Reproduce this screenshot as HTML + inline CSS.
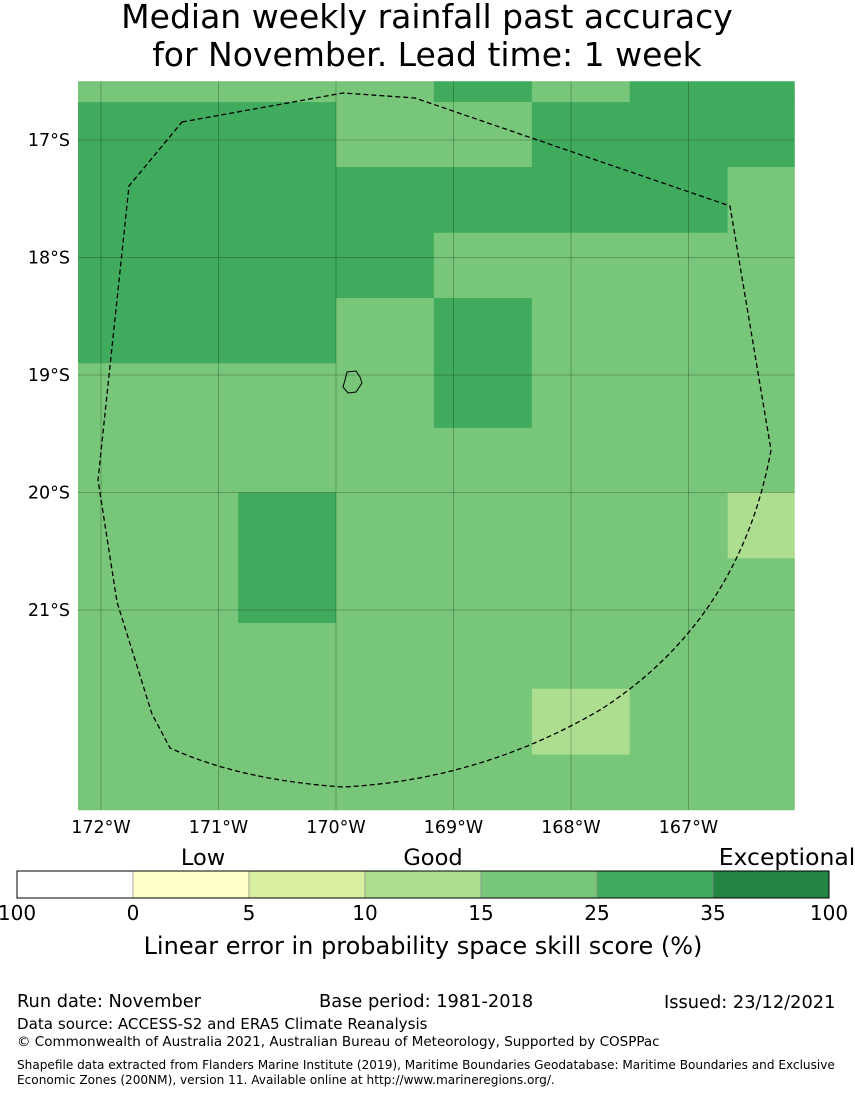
<!DOCTYPE html>
<html><head><meta charset="utf-8"><style>
body{margin:0;background:#fff;width:855px;height:1095px;overflow:hidden;font-family:"Liberation Sans","DejaVu Sans",sans-serif;}
svg text{font-family:"DejaVu Sans","Liberation Sans",sans-serif;}
</style></head><body>
<svg id="chart" width="855" height="1095">
<text x="427" y="28" font-size="33" text-anchor="middle">Median weekly rainfall past accuracy</text>
<text x="427" y="66" font-size="33" text-anchor="middle">for November. Lead time: 1 week</text>
<g id="cells"></g>
<g id="gridlines"></g>
<path id="eez" d="M182,122 L343,93 L415,98 L730,206 L771,450 Q740,620 600,710 Q480,780 343,787 Q240,780 170,748 L152,714 L117,602 L98,480 L129,186 Z" fill="none" stroke="#000" stroke-width="1.3" stroke-dasharray="5,3"/>
<path d="M347,372 L356,371 L360,377 L362,383 L356,392 L348,393 L343,387 L345,380 Z" fill="none" stroke="#000" stroke-width="1"/>
<g id="axes"></g>
<g id="cbar"></g>
<text x="203" y="865" font-size="22.5" text-anchor="middle">Low</text>
<text x="433" y="865" font-size="22.5" text-anchor="middle">Good</text>
<text x="787" y="865" font-size="23.5" text-anchor="middle">Exceptional</text>
<text x="423" y="954" font-size="24" text-anchor="middle">Linear error in probability space skill score (%)</text>
<text x="17" y="1007" font-size="17.8">Run date: November</text>
<text x="319" y="1007" font-size="17.8">Base period: 1981-2018</text>
<text x="664" y="1008" font-size="17.8">Issued: 23/12/2021</text>
<text x="17" y="1029" font-size="15.1">Data source: ACCESS-S2 and ERA5 Climate Reanalysis</text>
<text x="17" y="1046" font-size="13.5">© Commonwealth of Australia 2021, Australian Bureau of Meteorology, Supported by COSPPac</text>
<text x="17" y="1069" font-size="12.1">Shapefile data extracted from Flanders Marine Institute (2019), Maritime Boundaries Geodatabase: Maritime Boundaries and Exclusive</text>
<text x="17" y="1084" font-size="12.1">Economic Zones (200NM), version 11. Available online at http://www.marineregions.org/.</text>
</svg>
<script>
const lonEdges=[172.196,171.667,170.833,170.0,169.167,168.333,167.5,166.667,166.1];
const latEdges=[16.5,16.677,17.23,17.79,18.345,18.9,19.45,20.0,20.56,21.11,21.67,22.23,22.7];
const cellValues=[
[3,3,3,3,4,3,4,4],
[4,4,4,3,3,4,4,4],
[4,4,4,4,4,4,4,3],
[4,4,4,4,3,3,3,3],
[4,4,4,3,4,3,3,3],
[3,3,3,3,4,3,3,3],
[3,3,3,3,3,3,3,3],
[3,3,4,3,3,3,3,2],
[3,3,4,3,3,3,3,3],
[3,3,3,3,3,3,3,3],
[3,3,3,3,3,2,3,3],
[3,3,3,3,3,3,3,3]];
const binColors=['#ffffcc','#d9f0a3','#addd8e','#78c679','#41ab5d','#238443'];
const lonTicks=[172,171,170,169,168,167];
const latTicks=[17,18,19,20,21];
const cbarLabels=['100','0','5','10','15','25','35','100'];
const cbarColors=['#ffffff','#ffffcc','#d9f0a3','#addd8e','#78c679','#41ab5d','#238443'];
const NS='http://www.w3.org/2000/svg';
const X=l=>101+(172-l)*117.5, Y=l=>140+(l-17)*117.5;
function mk(t,a,p){const e=document.createElementNS(NS,t);for(const k in a)e.setAttribute(k,a[k]);p.appendChild(e);return e;}
const cells=document.getElementById('cells');
cellValues.forEach((row,r)=>row.forEach((v,c)=>{
 const x0=X(lonEdges[c]),x1=X(lonEdges[c+1]),y0=Y(latEdges[r]),y1=Y(latEdges[r+1]);
 const e=mk('rect',{x:x0,y:y0,width:x1-x0+0.5,height:y1-y0+0.5,fill:binColors[v]},cells);
 
 
}));
const gl=document.getElementById('gridlines'),ax=document.getElementById('axes');
const L=X(lonEdges[0]),R=X(lonEdges[8]),T=Y(latEdges[0]),B=Y(latEdges[12]);
lonTicks.forEach(t=>{
 const e=mk('line',{x1:X(t),x2:X(t),y1:T,y2:B,stroke:'#000','stroke-opacity':0.3,'stroke-width':0.8},gl);
 
 const s=mk('text',{x:X(t),y:B+23,'font-size':17.5,'text-anchor':'middle'},ax);s.textContent=t+'°W';
 
});
latTicks.forEach(t=>{
 const e=mk('line',{x1:L,x2:R,y1:Y(t),y2:Y(t),stroke:'#000','stroke-opacity':0.3,'stroke-width':0.8},gl);
 
 const s=mk('text',{x:70,y:Y(t)+6,'font-size':17.5,'text-anchor':'end'},ax);s.textContent=t+'°S';
 
});
const cb=document.getElementById('cbar');const w=(829-17)/cbarColors.length;
cbarColors.forEach((c,i)=>{
 const e=mk('rect',{x:17+i*w,y:871,width:w,height:27,fill:c,stroke:'#888','stroke-width':0.6},cb);
 
});
mk('rect',{x:17,y:871,width:812,height:27,fill:'none',stroke:'#000','stroke-width':1},cb);
cbarLabels.forEach((t,i)=>{
 const s=mk('text',{x:17+i*w,y:920,'font-size':20,'text-anchor':'middle'},cb);s.textContent=t;
 
});
</script>
</body></html>
